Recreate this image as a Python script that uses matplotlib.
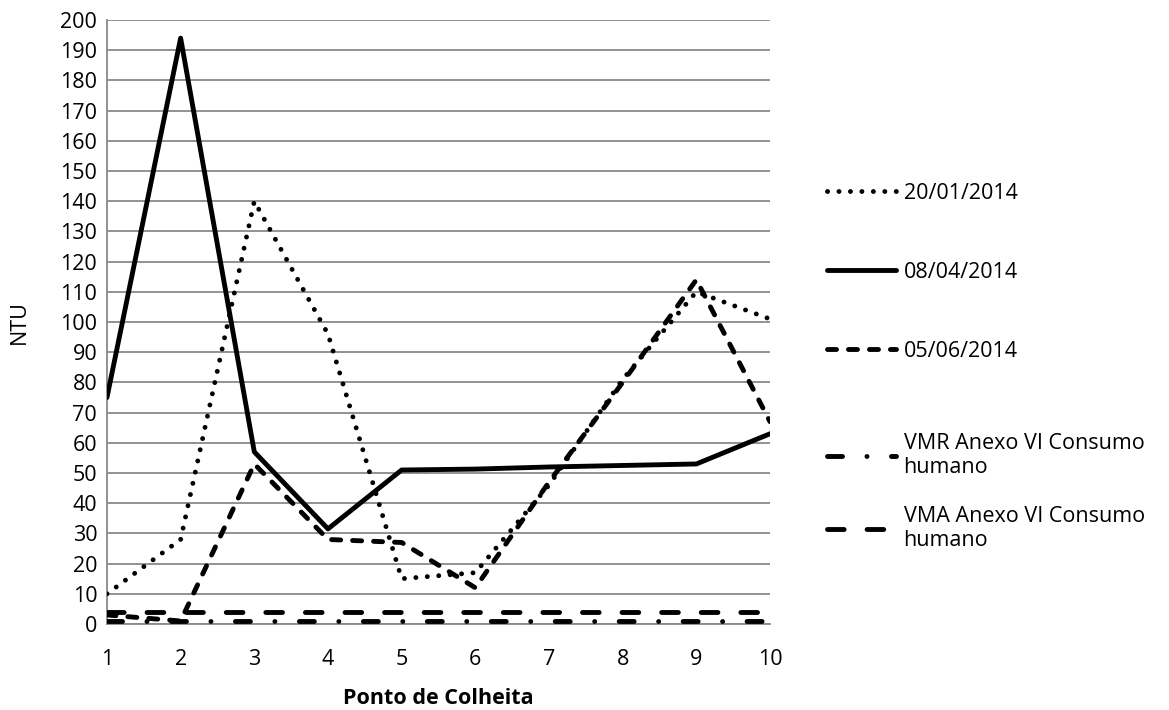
import matplotlib
matplotlib.use("Agg")
import matplotlib.pyplot as plt

plt.rcParams["font.family"] = ["Open Sans", "DejaVu Sans"]
plt.rcParams["lines.scale_dashes"] = False

# Data
pontos = [1, 2, 3, 4, 5, 6, 7, 8, 9, 10]
jan_2014 = [10, 28, 140, 96, 15, 17, 46, 81, 110, 101]
abr_2014 = [75, 194, 57, 31.5, 51, 51.3, 52, 52.5, 53, 63]
jun_2014 = [3, 1, 53, 28, 27, 12, 47, 80, 114, 67]
vmr = [1] * 10
vma = [4] * 10

labels = [
    "20/01/2014",
    "08/04/2014",
    "05/06/2014",
    "VMR Anexo VI Consumo\nhumano",
    "VMA Anexo VI Consumo\nhumano",
]

FS = 15.5

fig = plt.figure(figsize=(11.69, 7.10), dpi=100)
ax = fig.add_axes([0.0915, 0.1211, 0.5672, 0.8507])

LW = 3.5
l1, = ax.plot(pontos, jan_2014, color="black", linewidth=LW,
              dashes=(0.05, 8.2), dash_capstyle="round", zorder=3)
l2, = ax.plot(pontos, abr_2014, color="black", linewidth=LW,
              solid_capstyle="round", zorder=3)
l3, = ax.plot(pontos, jun_2014, color="black", linewidth=LW,
              dashes=(6.5, 8.6), dash_capstyle="round", zorder=3)
l4, = ax.plot(pontos, vmr, color="black", linewidth=LW,
              dashes=(10.8, 17.6, 0.05, 17.6), dash_capstyle="round", zorder=3)
l5, = ax.plot(pontos, vma, color="black", linewidth=LW,
              dashes=(12, 16.5), dash_capstyle="round", zorder=3)

ax.set_xlim(1, 10)
ax.set_ylim(0, 200)
ax.set_xticks(pontos)
ax.set_yticks(range(0, 201, 10))
ax.tick_params(axis="both", length=0, labelsize=FS)
ax.tick_params(axis="x", pad=18)
ax.tick_params(axis="y", pad=7)

ax.grid(True, axis="y", color="#898989", linewidth=1.3)
ax.set_axisbelow(True)
for side in ["top", "right"]:
    ax.spines[side].set_visible(False)
for side in ["left", "bottom"]:
    ax.spines[side].set_color("#898989")
    ax.spines[side].set_linewidth(1.3)

ax.set_ylabel("NTU", fontsize=FS, labelpad=22)
ax.set_xlabel("Ponto de Colheita", fontsize=FS, fontweight="bold", labelpad=13)

# legend split in two so the two-line entries can sit closer together
leg_opts = dict(loc="upper left", frameon=False, fontsize=FS,
                handlelength=3.25, handletextpad=0.33)
leg1 = ax.legend([l1, l2, l3], labels[:3], bbox_to_anchor=(1.056, 0.763),
                 labelspacing=2.7, **leg_opts)
ax.add_artist(leg1)
ax.legend([l4, l5], labels[3:], bbox_to_anchor=(1.056, 0.349),
          labelspacing=1.3, **leg_opts)

plt.savefig("out.png", dpi=100)
